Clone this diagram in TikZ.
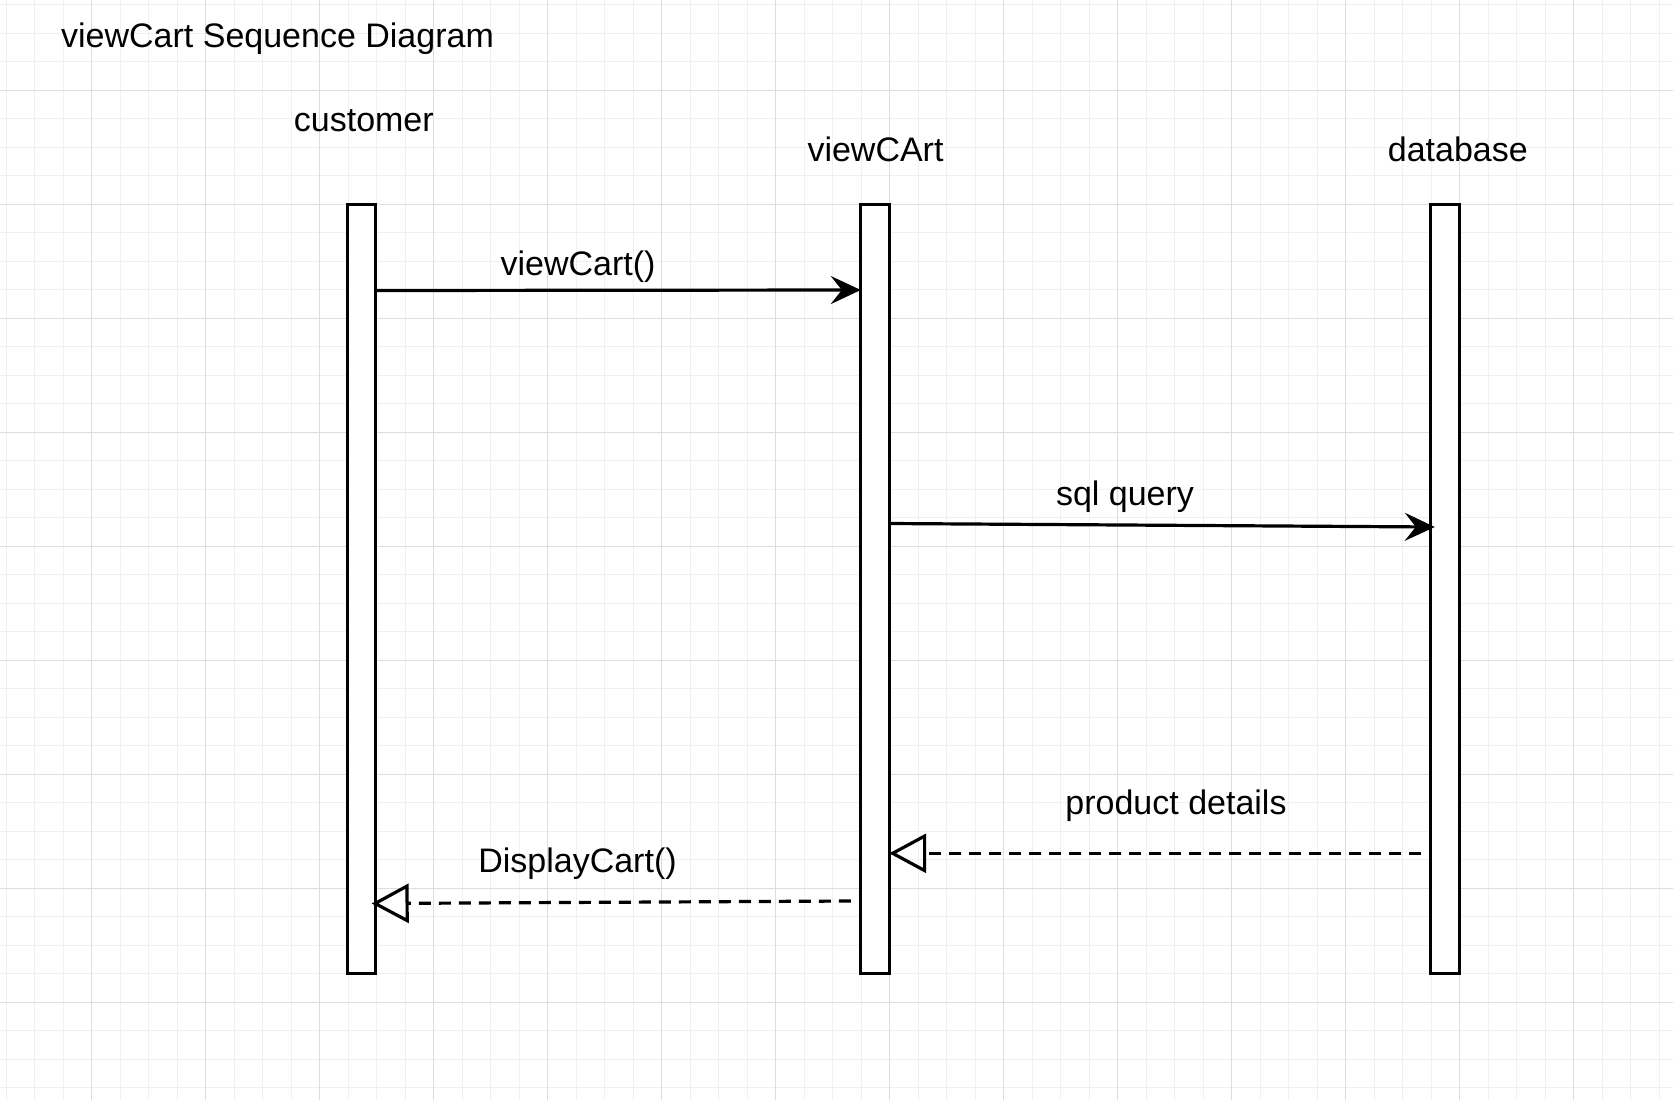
\documentclass[tikz,border=0pt]{standalone}
\usepackage{fontspec}
\setmainfont{Liberation Sans}
\usetikzlibrary{arrows.meta}
\definecolor{gridminor}{HTML}{F0F0F0}
\definecolor{gridmajor}{HTML}{DDDDDD}
\begin{document}
\begin{tikzpicture}[x=1pt,y=-1pt,
  lifebox/.style={draw=black, line width=3.2pt, fill=white, minimum width=28.4pt, minimum height=769.4pt, inner sep=0pt, outer sep=0pt},
  lbl/.style={font=\fontsize{34}{40}\selectfont, inner sep=0pt, anchor=base},
  msg/.style={line width=3.2pt, -{Stealth[length=30pt,width=28pt,inset=11pt]}},
  ret/.style={line width=3.2pt, dash pattern=on 12pt off 8pt, -{Triangle[open,length=37pt,width=39pt]}},
  minorline/.style={draw=gridminor, line width=1.2pt},
  majorline/.style={draw=gridmajor, line width=1.5pt}]
\useasboundingbox (0,0) rectangle (1673,1100);
\fill[white] (0,0) rectangle (1673,1100);
% grid
\foreach \i in {0,...,58} {\draw[minorline] ({6.2+28.5*\i},0) -- ({6.2+28.5*\i},1100);}
\foreach \i in {0,...,38} {\draw[minorline] (0,{4.8+28.5*\i}) -- (1673,{4.8+28.5*\i});}
\foreach \i in {0,...,13} {\draw[majorline] ({91.7+114*\i},0) -- ({91.7+114*\i},1100);}
\foreach \i in {0,...,8} {\draw[majorline] (0,{90.3+114*\i}) -- (1673,{90.3+114*\i});}
% title and lifeline labels
\node[lbl, anchor=base west] (title) at (61,47) {viewCart Sequence Diagram};
\node[lbl] (custlbl) at (363.8,131.7) {customer};
\node[lbl] (cartlbl) at (875.5,161) {viewCArt};
\node[lbl] (dblbl) at (1457.8,161) {database};
% lifeline boxes
\node[lifebox] (cust) at (361.5,589) {};
\node[lifebox] (cart) at (875,589) {};
\node[lifebox] (db) at (1445,589) {};
% messages
\draw[msg] ([yshift=-86.2pt]cust.north east) -- ([yshift=-85.7pt]cart.north west);
\draw[msg] ([yshift=-319.2pt]cart.north east) -- ([yshift=-322.7pt,xshift=4pt]db.north west);
\draw[ret] ([yshift=-649pt,xshift=-9.5pt]db.north west) -- ([yshift=-649pt]cart.north east);
\draw[ret] ([yshift=-696.7pt,xshift=-10pt]cart.north west) -- ([yshift=-699.2pt,xshift=-4pt]cust.north east);
% message labels
\node[lbl] (m1) at (578,275) {viewCart()};
\node[lbl] (m2) at (1125,505) {sql query};
\node[lbl] (m3) at (1176,814) {product details};
\node[lbl] (m4) at (577.5,872.7) {DisplayCart()};
\end{tikzpicture}
\end{document}
